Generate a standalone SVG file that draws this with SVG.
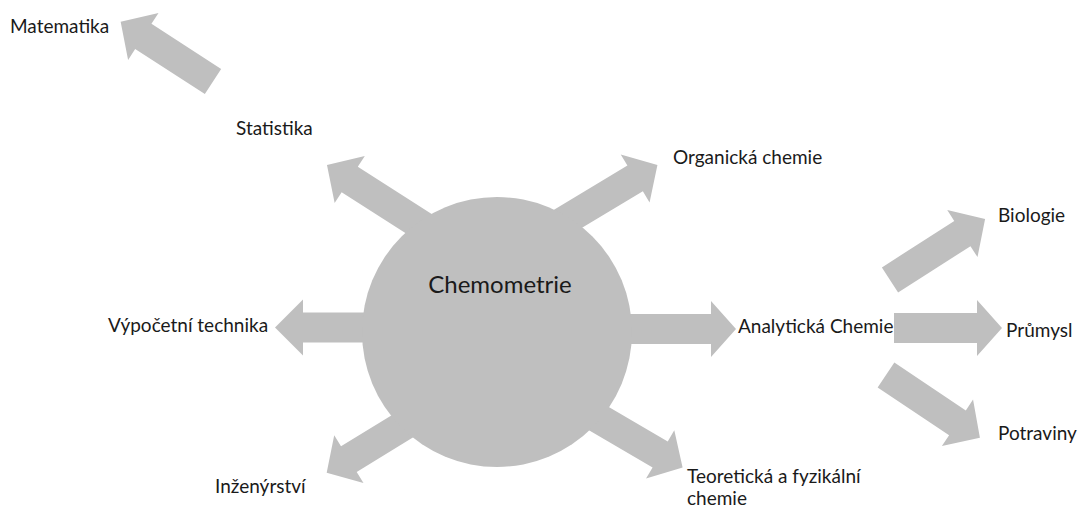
<svg xmlns="http://www.w3.org/2000/svg" width="1083" height="508" viewBox="0 0 1083 508">
<style>
.arr{fill:#bfbfbf;stroke:none}
.hub{fill:#bfbfbf;stroke:none}
.lbl{font-family:Lato,"Open Sans","Liberation Sans",sans-serif;font-size:19px;fill:#1a1a1a}
.big{font-family:Lato,"Open Sans","Liberation Sans",sans-serif;font-size:24px;fill:#1a1a1a;text-anchor:middle}
</style>
<rect width="1083" height="508" fill="#ffffff"/>
<g id="connectors">
<polygon class="arr" transform="translate(213,81.5) rotate(212.9)" points="0,-15 83,-15 83,-28 110,0 83,28 83,15 0,15"/>
<polygon class="arr" transform="translate(436.5,235) rotate(212.6)" points="0,-15 103,-15 103,-28 130,0 103,28 103,15 0,15"/>
<polygon class="arr" transform="translate(546,232) rotate(-31)" points="0,-15 104,-15 104,-28 130,0 104,28 104,15 0,15"/>
<polygon class="arr" transform="translate(400,327.5) rotate(180)" points="0,-15 97,-15 97,-28 125,0 97,28 97,15 0,15"/>
<polygon class="arr" transform="translate(600,329)" points="0,-15 111,-15 111,-28 136,0 111,28 111,15 0,15"/>
<polygon class="arr" transform="translate(429,410) rotate(148.5)" points="0,-15 94,-15 94,-28 120,0 94,28 94,15 0,15"/>
<polygon class="arr" transform="translate(579,407) rotate(30.3)" points="0,-15 94,-15 94,-28 120,0 94,28 94,15 0,15"/>
<polygon class="arr" transform="translate(890,280) rotate(-32.7)" points="0,-15 86,-15 86,-28 113,0 86,28 86,15 0,15"/>
<polygon class="arr" transform="translate(894,328)" points="0,-15 83,-15 83,-28 108,0 83,28 83,15 0,15"/>
<polygon class="arr" transform="translate(886,375) rotate(33.8)" points="0,-15 86,-15 86,-28 113,0 86,28 86,15 0,15"/>
</g>
<g id="chemometrie">
<circle class="hub" cx="497" cy="332" r="135"/>
<text class="big" x="500" y="293">Chemometrie</text>
</g>
<g id="matematika"><text class="lbl" x="10" y="33">Matematika</text></g>
<g id="statistika"><text class="lbl" x="236" y="135">Statistika</text></g>
<g id="organicka"><text class="lbl" x="673" y="164">Organická chemie</text></g>
<g id="vypocetni"><text class="lbl" x="108" y="332">Výpočetní technika</text></g>
<g id="analyticka"><text class="lbl" x="738" y="333">Analytická Chemie</text></g>
<g id="inzenyrstvi"><text class="lbl" x="215" y="493">Inženýrství</text></g>
<g id="teoreticka"><text class="lbl" x="687" y="483">Teoretická a fyzikální</text><text class="lbl" x="687" y="505">chemie</text></g>
<g id="biologie"><text class="lbl" x="998" y="222">Biologie</text></g>
<g id="prumysl"><text class="lbl" x="1006" y="337">Průmysl</text></g>
<g id="potraviny"><text class="lbl" x="998" y="440">Potraviny</text></g>
</svg>
